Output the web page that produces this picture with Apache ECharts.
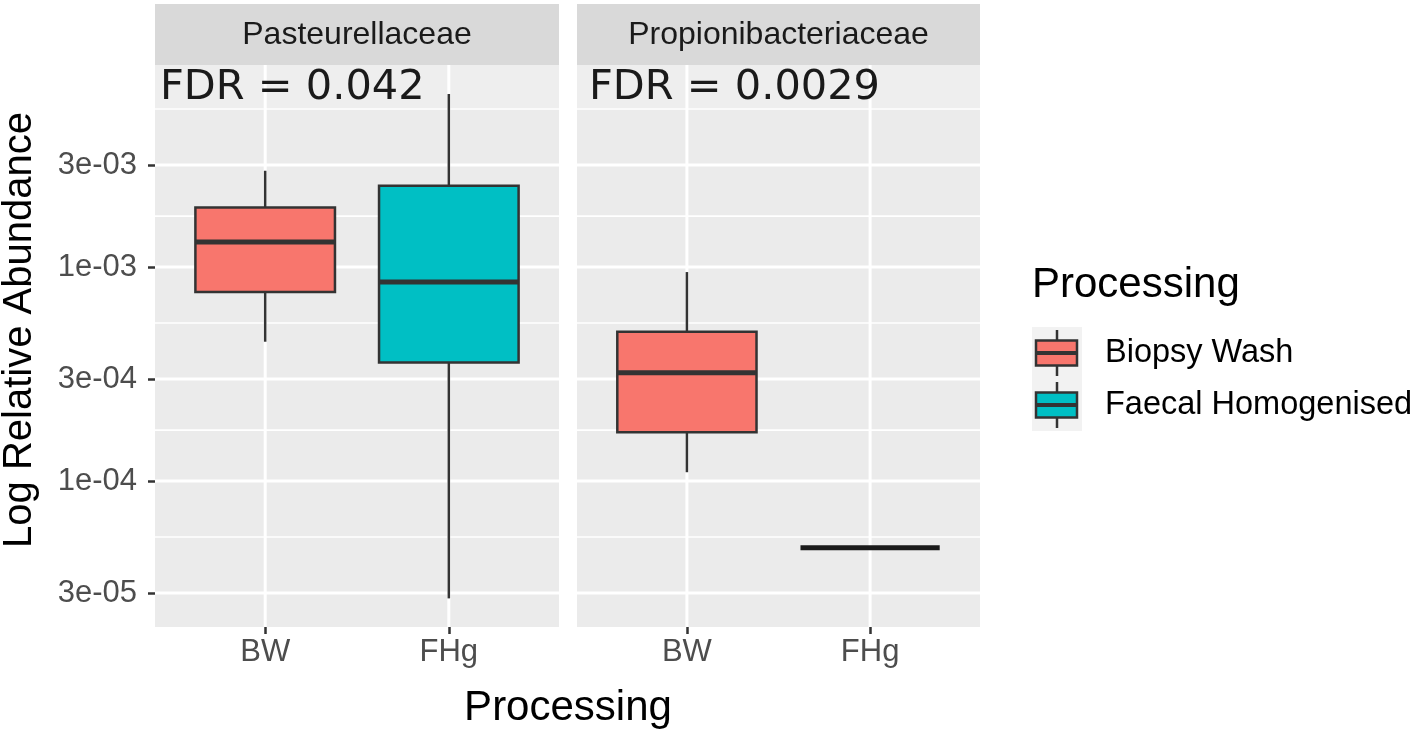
<!DOCTYPE html>
<html>
<head>
<meta charset="utf-8">
<script src="https://cdn.jsdelivr.net/npm/echarts@6/dist/echarts.min.js"></script>
<style>
  html, body { margin: 0; padding: 0; background: #ffffff; }
  #chart { width: 1416px; height: 735px; }
</style>
</head>
<body>
<div id="chart"></div>
<script>
// ---------------- data ----------------
const facets = ['Pasteurellaceae', 'Propionibacteriaceae'];
const categories = ['BW', 'FHg'];
const groups = ['Biopsy Wash', 'Faecal Homogenised'];
const fdrLabels = ['FDR = 0.042', 'FDR = 0.0029'];
// each row: [low whisker, Q1, median, Q3, high whisker]
const pasteurellaceaeBW  = [4.48e-4, 7.65e-4, 1.31e-3, 1.90e-3, 2.82e-3];
const pasteurellaceaeFHg = [2.83e-5, 3.58e-4, 8.51e-4, 2.40e-3, 6.44e-3];
const propionibacteriaceaeBW  = [1.10e-4, 1.69e-4, 3.21e-4, 4.99e-4, 9.48e-4];
const propionibacteriaceaeFHg = [4.88e-5, 4.88e-5, 4.88e-5, 4.88e-5, 4.88e-5];
const yTicks = [3e-5, 1e-4, 3e-4, 1e-3, 3e-3];
const yTickLabels = ['3e-05', '1e-04', '3e-04', '1e-03', '3e-03'];
const yMinor = [5.48e-5, 1.73e-4, 5.48e-4, 1.73e-3, 5.48e-3];
const yRange = [2.08e-5, 8.8e-3];

const panelData = [
  [pasteurellaceaeBW, pasteurellaceaeFHg],
  [propionibacteriaceaeBW, propionibacteriaceaeFHg]
];
const fills = ['#F8766D', '#00BFC4'];

// ---------------- layout ----------------
const grids = [
  { left: 155, top: 65, width: 404, height: 562 },
  { left: 577, top: 65, width: 403, height: 562 }
];
const stripTop = 4;
const FONT = 'Liberation Sans, Arial, sans-serif';

const chart = echarts.init(document.getElementById('chart'), null, { renderer: 'canvas' });

function fmtY(v) {
  const i = yTicks.findIndex(t => Math.abs(t - v) / t < 1e-6);
  return i >= 0 ? yTickLabels[i] : '';
}

const xAxes = [], yAxes = [], series = [], graphics = [];
grids.forEach((g, p) => {
  xAxes.push({
    type: 'value', gridIndex: p, min: 0.4, max: 2.6,
    axisLine: { show: false },
    splitLine: { show: false },
    axisTick: { show: true, length: 7, lineStyle: { color: '#333333', width: 2.5 }, customValues: [1, 2] },
    axisLabel: {
      show: true, customValues: [1, 2], margin: 10,
      formatter: v => categories[Math.round(v) - 1] || '',
      fontFamily: FONT, fontSize: 31, color: '#4D4D4D'
    }
  });
  yAxes.push({
    type: 'log', logBase: 10, gridIndex: p, min: yRange[0], max: yRange[1],
    axisLine: { show: false },
    splitLine: { show: false },
    minorSplitLine: { show: false },
    axisTick: { show: p === 0, length: 7, lineStyle: { color: '#333333', width: 2.5 }, customValues: yTicks },
    axisLabel: {
      show: p === 0, customValues: yTicks, margin: 18,
      formatter: fmtY,
      fontFamily: FONT, fontSize: 31, color: '#4D4D4D'
    }
  });

  // gridlines (white) drawn through the axes' scales
  const gridRows = [];
  gridRows.push([3, 1, yMinor[yMinor.length - 1]]); // light band at top
  yMinor.forEach(v => gridRows.push([2, 1, v]));
  yTicks.forEach(v => gridRows.push([1, 1, v]));
  [1, 2].forEach(x => gridRows.push([0, x, 1e-3]));
  series.push({
    type: 'custom', xAxisIndex: p, yAxisIndex: p, z: 1, silent: true,
    encode: { x: 1, y: 2 },
    data: gridRows,
    clip: true,
    renderItem: function (params, api) {
      const cs = params.coordSys;
      const kind = api.value(0);
      if (kind === 0) {
        const px = api.coord([api.value(1), api.value(2)])[0];
        return { type: 'line', shape: { x1: px, y1: cs.y, x2: px, y2: cs.y + cs.height },
                 style: { stroke: '#FFFFFF', lineWidth: 3 } };
      }
      const py = api.coord([api.value(1), api.value(2)])[1];
      if (kind === 3) {
        return { type: 'rect', shape: { x: cs.x, y: cs.y, width: cs.width, height: py - cs.y - 1 },
                 style: { fill: '#EEEEEE' } };
      }
      return { type: 'line', shape: { x1: cs.x, y1: py, x2: cs.x + cs.width, y2: py },
               style: { stroke: '#FFFFFF', lineWidth: kind === 1 ? 3 : 1.6 } };
    }
  });

  // boxplots
  const boxRows = panelData[p].map((d, i) => [i + 1].concat(d).concat([i]));
  series.push({
    type: 'custom', name: facets[p], xAxisIndex: p, yAxisIndex: p, z: 3,
    encode: { x: 0, y: [1, 2, 3, 4, 5] },
    data: boxRows,
    renderItem: function (params, api) {
      const x = api.value(0);
      const lo = api.value(1), q1 = api.value(2), md = api.value(3), q3 = api.value(4), hi = api.value(5);
      const gi = api.value(6);
      const cx = api.coord([x, md])[0];
      const xl = api.coord([x - 0.38, md])[0];
      const xr = api.coord([x + 0.38, md])[0];
      const yLo = api.coord([x, lo])[1], yQ1 = api.coord([x, q1])[1];
      const yMd = api.coord([x, md])[1], yQ3 = api.coord([x, q3])[1], yHi = api.coord([x, hi])[1];
      const stroke = '#333333';
      const children = [];
      if (yHi < yQ3) children.push({ type: 'line', shape: { x1: cx, y1: yQ3, x2: cx, y2: yHi }, style: { stroke, lineWidth: 2.5 } });
      if (yLo > yQ1) children.push({ type: 'line', shape: { x1: cx, y1: yQ1, x2: cx, y2: yLo }, style: { stroke, lineWidth: 2.5 } });
      if (yQ1 - yQ3 > 0.5) {
        children.push({ type: 'rect', shape: { x: xl, y: yQ3, width: xr - xl, height: yQ1 - yQ3 },
                        style: { fill: fills[gi], stroke, lineWidth: 2.5 } });
      }
      children.push({ type: 'line', shape: { x1: xl, y1: yMd, x2: xr, y2: yMd }, style: { stroke: yQ1 - yQ3 > 0.5 ? stroke : '#1A1A1A', lineWidth: 5 } });
      return { type: 'group', children };
    }
  });

  // strip
  graphics.push({
    type: 'rect', left: g.left, top: stripTop, z: 10,
    shape: { width: g.width, height: g.top - stripTop },
    style: { fill: '#D9D9D9' }
  });
  graphics.push({
    type: 'text', x: g.left + g.width / 2, y: (stripTop + g.top) / 2 + 1, z: 11,
    style: { text: facets[p], font: '32px ' + FONT, fill: '#1A1A1A', align: 'center', verticalAlign: 'middle' }
  });
});

// FDR annotations
graphics.push({ type: 'text', x: 160, y: 88, z: 20,
  style: { text: fdrLabels[0], font: '41.5px DejaVu Sans', fill: '#1A1A1A', align: 'left', verticalAlign: 'middle' } });
graphics.push({ type: 'text', x: 589, y: 88, z: 20,
  style: { text: fdrLabels[1], font: '41.5px DejaVu Sans', fill: '#1A1A1A', align: 'left', verticalAlign: 'middle' } });

// axis titles
graphics.push({ type: 'text', x: 20, y: 330, rotation: Math.PI / 2, z: 20,
  style: { text: 'Log Relative Abundance', font: '40px ' + FONT, fill: '#000000', align: 'center', verticalAlign: 'middle' } });
graphics.push({ type: 'text', x: 568, y: 708, z: 20,
  style: { text: 'Processing', font: '42px ' + FONT, fill: '#000000', align: 'center', verticalAlign: 'middle' } });

// legend
graphics.push({ type: 'text', x: 1032, y: 285, z: 20,
  style: { text: 'Processing', font: '42px ' + FONT, fill: '#000000', align: 'left', verticalAlign: 'middle' } });
const keyTops = [327, 379];
groups.forEach((name, i) => {
  const top = keyTops[i];
  const cy = top + 26;
  graphics.push({ type: 'rect', left: 1032, top: top, z: 20, shape: { width: 50, height: 52 }, style: { fill: '#F2F2F2' } });
  graphics.push({ type: 'line', z: 21, shape: { x1: 1057, y1: top + 3, x2: 1057, y2: top + 49 }, style: { stroke: '#333333', lineWidth: 2.5 } });
  graphics.push({ type: 'rect', z: 22, shape: { x: 1036, y: cy - 12.5, width: 41, height: 25 }, style: { fill: fills[i], stroke: '#333333', lineWidth: 2.5 } });
  graphics.push({ type: 'line', z: 23, shape: { x1: 1036, y1: cy, x2: 1077, y2: cy }, style: { stroke: '#333333', lineWidth: 4 } });
  graphics.push({ type: 'text', x: 1105, y: cy, z: 20,
    style: { text: name, font: '32.5px ' + FONT, fill: '#000000', align: 'left', verticalAlign: 'middle' } });
});

chart.setOption({
  animation: false,
  backgroundColor: '#FFFFFF',
  grid: grids.map(g => Object.assign({ show: true, backgroundColor: '#EBEBEB', borderWidth: 0 }, g)),
  xAxis: xAxes,
  yAxis: yAxes,
  series: series,
  graphic: graphics
});
</script>
</body>
</html>
